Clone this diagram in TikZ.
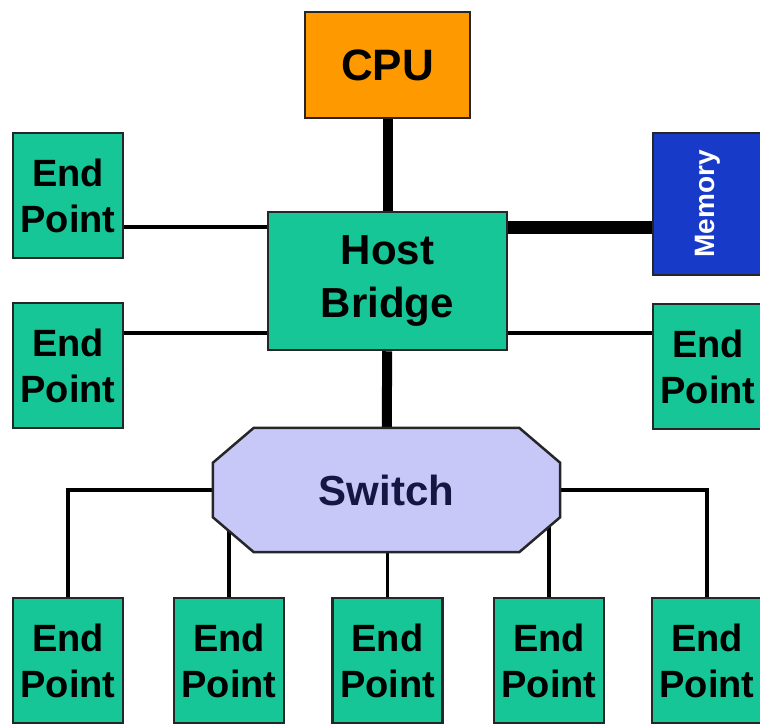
\documentclass[tikz,border=0pt]{standalone}
\usepackage{fontspec}
\setmainfont{Liberation Sans}
\usepackage{graphicx}
\usetikzlibrary{backgrounds}
\definecolor{epgreen}{RGB}{22,198,150}
\definecolor{cpuorange}{RGB}{255,153,0}
\definecolor{memblue}{RGB}{24,58,200}
\definecolor{swlilac}{RGB}{200,200,248}
\definecolor{swtext}{RGB}{22,22,66}
\begin{document}
\begin{tikzpicture}[x=1pt,y=-1pt,
    box/.style={draw=black!85,line width=2.5pt,inner sep=0pt,align=center},
    endpt/.style={box,fill=epgreen,minimum width=110pt,minimum height=125pt,
      font=\bfseries\fontsize{38}{46}\selectfont},
    link/.style={line width=3.5pt},
    bus/.style={line width=10pt},
    membus/.style={line width=13pt}]
  \useasboundingbox (0,0) rectangle (760,723);
  \clip (0,0) rectangle (760,723);
  \node[box,fill=cpuorange,minimum width=165pt,minimum height=106pt,
    font=\bfseries\fontsize{44}{50}\selectfont] (cpu) at (387.5,65) {CPU};
  \node[box,fill=epgreen,minimum width=239pt,minimum height=138pt,
    font=\bfseries\fontsize{42}{53}\selectfont] (hb) at (387.5,281) {Host\\Bridge};
  \node[box,fill=memblue,text=white,minimum width=109pt,minimum height=142pt,
    font=\bfseries\fontsize{28}{32}\selectfont] (mem) at (707.5,204) {\rotatebox{90}{Memory}};
  \node[endpt] (l1) at (68,195.5) {End\\Point};
  \node[endpt] (l2) at (68,365.5) {End\\Point};
  \node[endpt] (r1) at (708,366.5) {End\\Point};
  \node[text=swtext,minimum width=347pt,minimum height=124pt,inner sep=0pt,
    font=\bfseries\fontsize{42}{50}\selectfont] (sw) at (386.5,490) {Switch};
  \node[endpt] (b1) at (68,660.5) {End\\Point};
  \node[endpt] (b2) at (229,660.5) {End\\Point};
  \node[endpt] (b3) at (387.5,660.5) {End\\Point};
  \node[endpt] (b4) at (549,660.5) {End\\Point};
  \node[endpt] (b5) at (707,660.5) {End\\Point};
  \coordinate (rowA) at (0,227);
  \coordinate (rowB) at (0,333);
  % connectors go under the boxes
  \begin{scope}[on background layer]
    \draw[bus] (cpu) -- (hb);
    \draw[bus] (hb) -- (sw);
    \draw[membus] (hb.east |- rowA) -- (mem.west |- rowA);
    \draw[link] (l1.east |- rowA) -- (hb.west |- rowA);
    \draw[link] (l2.east |- rowB) -- (hb.west |- rowB);
    \draw[link] (hb.east |- rowB) -- (r1.west |- rowB);
    \draw[link] (sw.west) -| (b1.north);
    \draw[link] (sw.east) -| (b5.north);
    \draw[link] (b2.north) -- (b2.north |- sw.center);
    \draw[link] (b3.north) -- (b3.north |- sw.center);
    \draw[link] (b4.north) -- (b4.north |- sw.center);
    % switch outline, cut corners
    \draw[box,fill=swlilac] ([xshift=41pt]sw.north west) -- ([xshift=-41pt]sw.north east)
      -- ([yshift=-35pt]sw.north east) -- ([yshift=35pt]sw.south east)
      -- ([xshift=-41pt]sw.south east) -- ([xshift=41pt]sw.south west)
      -- ([yshift=35pt]sw.south west) -- ([yshift=-35pt]sw.north west) -- cycle;
  \end{scope}
\end{tikzpicture}
\end{document}
